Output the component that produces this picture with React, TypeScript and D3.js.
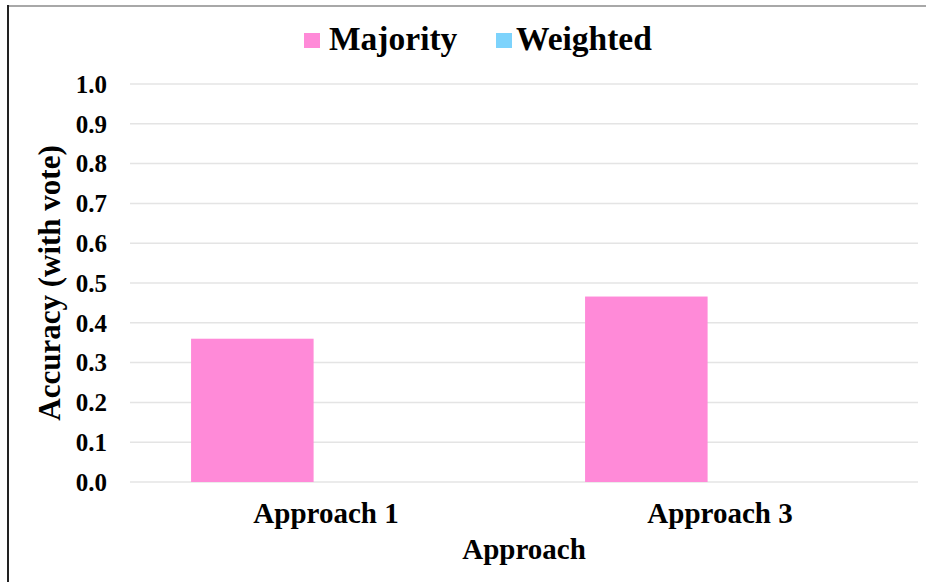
import React from "react";
import * as d3 from "d3";

const categories = ["Approach 1", "Approach 3"];
const seriesNames = ["Majority", "Weighted"];
const majorityValues = [0.36, 0.466];
const weightedValues = [0, 0];
const yTicks = [0, 0.1, 0.2, 0.3, 0.4, 0.5, 0.6, 0.7, 0.8, 0.9, 1.0];
const seriesColors = ["#FF8AD8", "#7DD3FC"];

const W = 926;
const H = 582;
const FONT = "'Liberation Serif', 'Times New Roman', serif";

export default function App() {
  const left = 130;
  const right = 918;
  const top = 84;
  const bottom = 482;

  const x0 = d3.scaleBand<string>().domain(categories).range([left, right]).padding(0);
  const bw = x0.bandwidth();
  const x1 = d3
    .scaleBand<string>()
    .domain(seriesNames)
    .range([bw * 0.155, bw * 0.155 + 2 * bw * 0.311])
    .padding(0);
  const y = d3.scaleLinear().domain([0, 1]).range([bottom, top]);

  const seriesValues = [majorityValues, weightedValues];

  return (
    <svg
      width={W}
      height={H}
      style={{ position: "absolute", left: 0, top: 0, background: "#fff" }}
      fontFamily={FONT}
      fontWeight="bold"
    >
      <rect x={0} y={0} width={W} height={H} fill="#fff" />
      {/* border */}
      <line x1={8} x2={W} y1={6} y2={6} stroke="#a8a8a8" strokeWidth={2} />
      <line x1={8} x2={8} y1={5} y2={H} stroke="#222" strokeWidth={2} />

      {/* gridlines */}
      {yTicks.map((t) => (
        <line
          key={"g" + t}
          x1={left}
          x2={right}
          y1={y(t)}
          y2={y(t)}
          stroke="#e4e4e4"
          strokeWidth={1.5}
        />
      ))}
      {/* tick labels */}
      {yTicks.map((t) => (
        <text
          key={"t" + t}
          x={107}
          y={y(t)}
          dy="0.35em"
          textAnchor="end"
          fontSize={25}
          fill="#000"
        >
          {t.toFixed(1)}
        </text>
      ))}

      {/* bars */}
      {seriesNames.map((s, si) =>
        categories.map((c, ci) => {
          const v = seriesValues[si][ci];
          const bx = (x0(c) as number) + (x1(s) as number);
          return (
            <rect
              key={s + c}
              x={bx}
              y={y(v)}
              width={x1.bandwidth()}
              height={y(0) - y(v)}
              fill={seriesColors[si]}
            />
          );
        })
      )}

      {/* category labels */}
      {categories.map((c) => (
        <text
          key={"c" + c}
          x={(x0(c) as number) + bw / 2 - 1}
          y={523}
          textAnchor="middle"
          fontSize={29}
          fill="#000"
        >
          {c}
        </text>
      ))}

      {/* axis titles */}
      <text x={(left + right) / 2} y={559} textAnchor="middle" fontSize={29} fill="#000">
        Approach
      </text>
      <text
        transform={`translate(60, ${(top + bottom) / 2}) rotate(-90)`}
        textAnchor="middle"
        fontSize={31}
        fill="#000"
      >
        Accuracy (with vote)
      </text>

      {/* legend */}
      <rect x={304} y={33} width={16} height={15} fill={seriesColors[0]} />
      <text x={329} y={50} fontSize={33.5} fill="#000">
        {seriesNames[0]}
      </text>
      <rect x={496} y={33} width={16} height={15} fill={seriesColors[1]} />
      <text x={516} y={50} fontSize={33.5} fill="#000">
        {seriesNames[1]}
      </text>
    </svg>
  );
}
